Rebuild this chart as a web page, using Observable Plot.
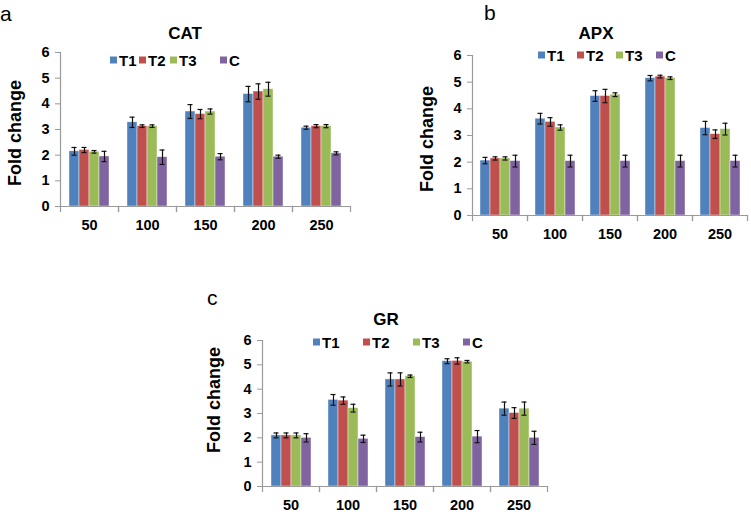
<!DOCTYPE html>
<html>
<head>
<meta charset="utf-8">
<script src="https://cdn.jsdelivr.net/npm/d3@7"></script>
<script src="https://cdn.jsdelivr.net/npm/@observablehq/plot@0.6"></script>
<style>
  body { margin: 0; background: #fff; }
  #root { position: relative; width: 751px; height: 516px; overflow: hidden; background: #fff;
          font-family: "Liberation Sans", Arial, Helvetica, sans-serif; color: #000; }
  .abs { position: absolute; }
  .ylab { font-weight: bold; font-size: 18px; white-space: nowrap; transform: translate(-50%, -50%) rotate(-90deg); line-height: 1; }
  .title { font-weight: bold; font-size: 17px; white-space: nowrap; transform: translate(-50%, -50%); line-height: 1; }
  .letter { font-size: 21px; line-height: 1; }
  .leg { display: flex; align-items: center; gap: 2px; transform: translateY(-50%); font-weight: bold; font-size: 15px; line-height: 1; white-space: nowrap; }
  .sw { width: 7px; height: 7px; display: inline-block; }
</style>
</head>
<body>
<div id="root"></div>
<script>
// ---- data ----
const doses = ["50", "100", "150", "200", "250"];
const groups = ["T1", "T2", "T3", "C"];
const colors = ["#4F81BD", "#C0504D", "#9BBB59", "#8064A2"];

// CAT (rows: T1, T2, T3, C; columns: doses)
const catMean = [
  [2.15, 3.28, 3.70, 4.38, 3.07],
  [2.20, 3.13, 3.60, 4.48, 3.13],
  [2.13, 3.13, 3.70, 4.57, 3.13],
  [1.95, 1.92, 1.94, 1.94, 2.07]
];
const catErr = [
  [0.15, 0.20, 0.27, 0.30, 0.06],
  [0.10, 0.05, 0.18, 0.30, 0.06],
  [0.05, 0.05, 0.10, 0.27, 0.06],
  [0.20, 0.28, 0.12, 0.06, 0.06]
];

// APX
const apxMean = [
  [2.06, 3.63, 4.48, 5.15, 3.28],
  [2.14, 3.51, 4.48, 5.21, 3.05],
  [2.14, 3.30, 4.53, 5.15, 3.24],
  [2.04, 2.04, 2.04, 2.04, 2.04]
];
const apxErr = [
  [0.12, 0.20, 0.20, 0.10, 0.25],
  [0.06, 0.16, 0.25, 0.05, 0.16],
  [0.06, 0.10, 0.07, 0.05, 0.22],
  [0.22, 0.22, 0.22, 0.22, 0.22]
];

// GR
const grMean = [
  [2.10, 3.56, 4.40, 5.15, 3.20],
  [2.10, 3.53, 4.40, 5.16, 3.02],
  [2.10, 3.22, 4.53, 5.13, 3.20],
  [2.00, 1.96, 2.03, 2.05, 2.00]
];
const grErr = [
  [0.10, 0.22, 0.27, 0.10, 0.27],
  [0.10, 0.15, 0.27, 0.13, 0.22],
  [0.10, 0.16, 0.05, 0.05, 0.27],
  [0.17, 0.15, 0.20, 0.25, 0.27]
];

const yTicks = [0, 1, 2, 3, 4, 5, 6];

// ---- drawing ----
const root = document.getElementById("root");
const AXIS = "#9a9a9a";
const FONT = '"Liberation Sans", Arial, Helvetica, sans-serif';

function addEl(cls, html, left, top) {
  const d = document.createElement("div");
  d.className = "abs " + cls;
  d.style.left = left + "px";
  d.style.top = top + "px";
  d.innerHTML = html;
  root.appendChild(d);
  return d;
}

function panel(mean, err, cfg) {
  const rows = [];
  groups.forEach((g, i) => doses.forEach((d, j) => rows.push({dose: d, group: g, value: mean[i][j], err: err[i][j]})));
  const innerH = cfg.height - cfg.marginTop - cfg.marginBottom;
  const chart = Plot.plot({
    width: cfg.width,
    height: cfg.height,
    marginLeft: cfg.marginLeft,
    marginRight: cfg.marginRight,
    marginTop: cfg.marginTop,
    marginBottom: cfg.marginBottom,
    style: {fontFamily: FONT, background: "transparent", overflow: "visible"},
    fx: {domain: doses, padding: 0, label: null},
    x: {domain: groups, paddingInner: 0, paddingOuter: 0.68, axis: null},
    y: {domain: [0, 6], axis: null},
    color: {domain: groups, range: colors},
    marks: [
      Plot.barY(rows, {fx: "dose", x: "group", y: "value", fill: "group", stroke: "#fff", strokeWidth: 0.6, strokeOpacity: 0.7}),
      Plot.ruleX(rows, {fx: "dose", x: "group", y1: d => d.value - d.err, y2: d => d.value + d.err, stroke: "#111", strokeWidth: 1.2}),
      Plot.tickY(rows, {fx: "dose", x: "group", y: d => d.value - d.err, stroke: "#111", strokeWidth: 1.2, insetLeft: 2.5, insetRight: 2.5}),
      Plot.tickY(rows, {fx: "dose", x: "group", y: d => d.value + d.err, stroke: "#111", strokeWidth: 1.2, insetLeft: 2.5, insetRight: 2.5}),
      Plot.frame({anchor: "bottom", stroke: AXIS, strokeWidth: 1.2}),
      Plot.frame({anchor: "left", stroke: AXIS, strokeWidth: 1.2, insetTop: innerH, insetBottom: -5}),
      Plot.frame({anchor: "right", stroke: AXIS, strokeWidth: 1.2, insetTop: innerH, insetBottom: -5}),
      Plot.frame({anchor: "left", facetAnchor: "left", stroke: AXIS, strokeWidth: 1.2}),
      Plot.axisY({anchor: "left", ticks: yTicks, tickFormat: "d", tickSize: 5, tickPadding: 6, stroke: AXIS, fill: "#000",
                  fontSize: 14.5, fontWeight: "bold", label: null}),
      Plot.axisFx({anchor: "bottom", tickSize: 0, tickPadding: 13, fontSize: 14.5, fontWeight: "bold", label: null})
    ]
  });
  chart.style.position = "absolute";
  chart.style.left = cfg.left + "px";
  chart.style.top = cfg.top + "px";
  root.appendChild(chart);

  addEl("letter", cfg.letter, cfg.letterX, cfg.letterY);
  addEl("title", cfg.title, cfg.titleX, cfg.titleY);
  addEl("ylab", "Fold change", cfg.ylabX, cfg.ylabY);
  groups.forEach((g, i) => {
    addEl("leg", `<span class="sw" style="background:${colors[i]}"></span><span>${g}</span>`, cfg.legX[i], cfg.legY);
  });
}

panel(catMean, catErr, {
  left: 0, top: 0, width: 360, height: 240,
  marginLeft: 58, marginRight: 8, marginTop: 52, marginBottom: 34,
  letter: "a", letterX: 0, letterY: 3,
  title: "CAT", titleX: 185, titleY: 33,
  ylabX: 15, ylabY: 133,
  legX: [110, 139, 170, 220], legY: 60
});

panel(apxMean, apxErr, {
  left: 375, top: 0, width: 376, height: 245,
  marginLeft: 96, marginRight: 4, marginTop: 55, marginBottom: 30,
  letter: "b", letterX: 484, letterY: 2,
  title: "APX", titleX: 596, titleY: 33,
  ylabX: 427, ylabY: 139,
  legX: [538, 577, 616, 656], legY: 55
});

panel(grMean, grErr, {
  left: 200, top: 260, width: 360, height: 256,
  marginLeft: 60, marginRight: 12, marginTop: 80, marginBottom: 30,
  letter: "c", letterX: 207, letterY: 287,
  title: "GR", titleX: 386, titleY: 319,
  ylabX: 214, ylabY: 400,
  legX: [313, 363, 413, 463], legY: 342
});
</script>
</body>
</html>
